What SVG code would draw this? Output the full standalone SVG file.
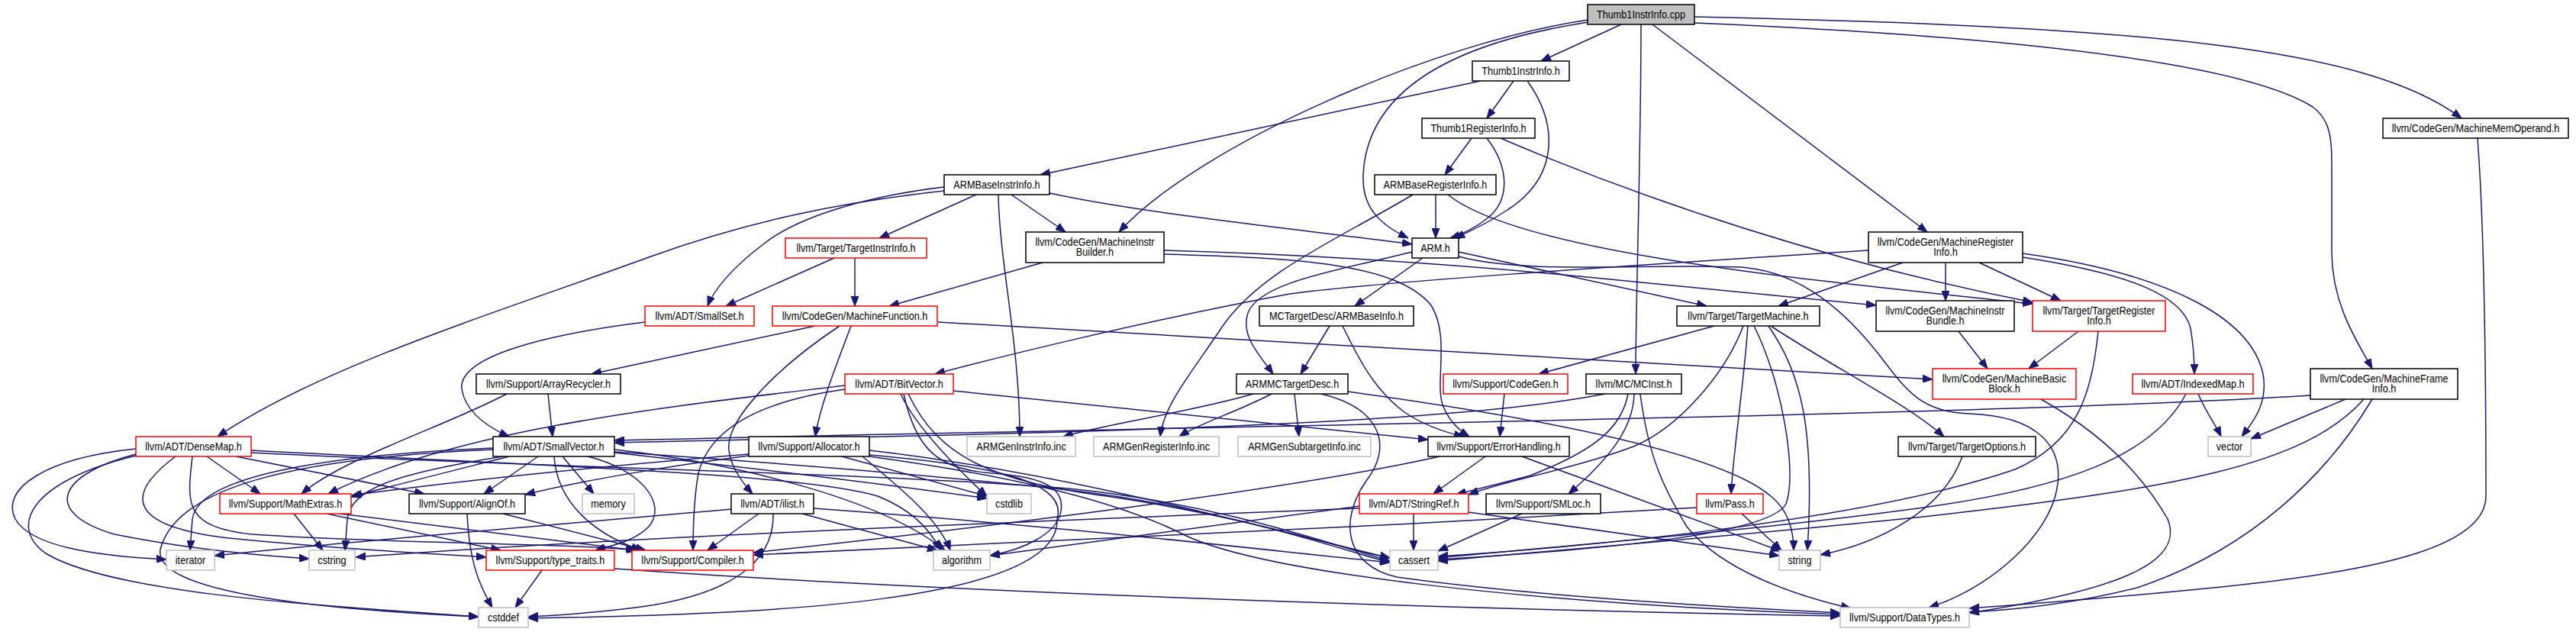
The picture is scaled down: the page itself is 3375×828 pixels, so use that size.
<svg xmlns="http://www.w3.org/2000/svg" width="3375" height="828" viewBox="0 0 3375 828">
<defs>
<marker id="arr" viewBox="0 0 13 10" refX="13" refY="5" markerWidth="13" markerHeight="10" markerUnits="userSpaceOnUse" orient="auto"><path d="M0,0 L13,5 L0,10 z" fill="#191970" stroke="#191970" stroke-width="1"/></marker>
</defs>
<style>
.n rect{fill:#fff;stroke:#000;stroke-width:1.5}
.n.r rect{stroke:#ff0000}
.n.g rect{stroke:#bfbfbf}
.n.root rect{fill:#bfbfbf}
.n text{font-family:"Liberation Sans",Arial,Helvetica,sans-serif;font-size:14.4px;text-anchor:middle;fill:#000}
#edges path{fill:none;stroke:#191970;stroke-width:1.5;marker-end:url(#arr)}
</style>
<rect x="0" y="0" width="3375" height="828" fill="#fff"/>
<g id="edges">
<path d="M2124,32 L2019,80"/>
<path d="M2081,29 C1880,60 1790,130 1786,230 C1784,275 1812,296 1845,312"/>
<path d="M2081,26 C1880,55 1570,190 1466,304"/>
<path d="M2150,32 C2150,200 2143,400 2143,490"/>
<path d="M2165,32 L2525,304"/>
<path d="M2220,22 C2800,35 3100,60 3225,155"/>
<path d="M2220,30 C2700,50 2950,90 3030,140 C3050,155 3055,175 3055,210 L3055,330 C3055,400 3090,450 3108,483"/>
<path d="M1940,106 L1363,229"/>
<path d="M1983,106 L1948,155"/>
<path d="M2001,106 C2040,160 2045,230 1975,275 C1950,292 1922,305 1906,312"/>
<path d="M1928,181 L1893,229"/>
<path d="M1948,181 C1978,220 1978,262 1950,285 C1935,297 1918,306 1900,312"/>
<path d="M1966,181 C2150,260 2400,345 2663,396"/>
<path d="M1881,255 L1881,312"/>
<path d="M1897,255 C1990,330 2350,365 2663,398"/>
<path d="M1851,255 C1760,310 1650,355 1600,430 C1560,490 1525,530 1520,572"/>
<path d="M1375,253 C1500,280 1700,300 1850,320"/>
<path d="M1325,255 L1396,304"/>
<path d="M1279,255 L1152,312"/>
<path d="M1308,255 C1310,350 1336,450 1336,572"/>
<path d="M1237,245 C1150,255 1050,280 1000,320 C960,350 935,380 927,401"/>
<path d="M1237,250 C1100,265 980,290 850,337 C650,410 420,480 285,572"/>
<path d="M1093,338 L951,401"/>
<path d="M1120,338 L1120,401"/>
<path d="M1366,344 L1165,401"/>
<path d="M1525,328 C1700,333 1900,345 2100,365 C2250,380 2380,392 2458,400"/>
<path d="M1525,333 C1700,338 1830,345 1875,400 C1900,440 1880,500 1890,530 C1898,552 1912,564 1925,572"/>
<path d="M1864,338 L1775,401"/>
<path d="M1850,330 C1750,355 1650,370 1635,410 C1625,440 1650,465 1668,490"/>
<path d="M1911,330 L2236,401"/>
<path d="M1911,336 C2000,360 2150,345 2280,350 C2360,355 2420,410 2466,470 C2500,515 2520,540 2580,542 C2670,545 2705,585 2695,640 C2685,700 2610,770 2527,796"/>
<path d="M2448,328 C2100,350 1800,370 1690,385 C1500,420 1300,470 1225,490"/>
<path d="M2549,344 L2549,394"/>
<path d="M2593,344 L2700,394"/>
<path d="M2493,344 L2330,401"/>
<path d="M2650,337 C2800,360 2860,390 2870,430 C2875,460 2875,475 2875,490"/>
<path d="M2650,332 C2850,360 2950,420 2965,490 C2972,530 2950,555 2937,572"/>
<path d="M845,422 C700,440 600,470 605,510 C610,540 640,560 667,572"/>
<path d="M1068,427 L775,490"/>
<path d="M1100,427 C1020,480 950,550 955,590 C958,615 975,635 986,647"/>
<path d="M1115,427 C1095,480 1075,530 1068,572"/>
<path d="M1229,422 L2532,497"/>
<path d="M664,516 C580,560 450,600 395,647"/>
<path d="M718,516 L724,572"/>
<path d="M1107,505 C900,530 600,560 430,647"/>
<path d="M1249,512 L1871,576"/>
<path d="M1107,510 C1000,525 930,560 915,620 C908,660 908,700 908,721"/>
<path d="M1184,516 C1200,590 1230,615 1300,620 C1370,625 1395,640 1390,670 C1385,700 1340,720 1297,728"/>
<path d="M1180,516 C1200,560 1260,620 1293,650"/>
<path d="M1190,516 C1230,600 1300,630 1450,650 C1650,680 1760,720 1821,731"/>
<path d="M1642,516 C1560,540 1450,555 1393,572"/>
<path d="M1666,516 C1620,540 1570,555 1545,572"/>
<path d="M1696,516 L1702,572"/>
<path d="M1731,516 C1810,535 1825,585 1790,630 C1755,680 1760,740 1830,756 C2000,780 2250,795 2411,803"/>
<path d="M1766,513 C2000,545 2250,590 2320,650 C2345,670 2350,700 2350,721"/>
<path d="M1742,427 L1704,490"/>
<path d="M1759,427 C1780,470 1800,510 1840,540 C1870,560 1900,568 1918,572"/>
<path d="M2246,427 L2016,490"/>
<path d="M2284,427 C2260,490 2200,560 2140,585 C2060,615 1970,630 1924,648"/>
<path d="M2290,427 C2285,500 2270,600 2268,647"/>
<path d="M2317,427 C2360,490 2378,560 2368,721"/>
<path d="M2298,427 C2335,500 2355,620 2340,660 C2320,700 2100,720 1884,733"/>
<path d="M2320,427 C2400,480 2500,530 2547,572"/>
<path d="M2566,434 L2604,483"/>
<path d="M2723,434 L2658,483"/>
<path d="M2749,434 C2740,520 2720,580 2640,615 C2450,680 2100,715 1884,729"/>
<path d="M2674,523 C2740,560 2800,610 2840,680 C2860,730 2800,770 2580,803"/>
<path d="M2880,516 C2890,540 2902,555 2910,572"/>
<path d="M2864,516 C2820,600 2700,640 2520,665 C2300,695 2050,715 1884,731"/>
<path d="M3027,518 C2600,545 1500,560 805,577"/>
<path d="M3073,523 L2949,575"/>
<path d="M3097,523 C3020,610 2850,640 2520,677 C2300,700 2050,720 1884,735"/>
<path d="M3108,523 C3050,620 2950,720 2800,770 C2700,795 2620,800 2580,802"/>
<path d="M3246,181 C3255,300 3257,500 3257,650 C3257,720 3100,750 2900,770 C2750,785 2650,792 2580,797"/>
<path d="M2103,516 C1900,555 1500,565 805,580"/>
<path d="M2133,516 C2125,560 2090,590 2005,623 C1960,635 1930,642 1908,648"/>
<path d="M2141,516 C2140,560 2110,600 2055,647"/>
<path d="M2149,516 C2160,600 2180,640 2210,690 C2250,740 2330,775 2425,797"/>
<path d="M1971,516 L1965,572"/>
<path d="M1946,598 L1878,647"/>
<path d="M1994,598 L2333,722"/>
<path d="M1886,598 C1700,640 1300,690 987,724"/>
<path d="M1852,673 L1852,721"/>
<path d="M1924,671 L2331,728"/>
<path d="M1781,663 L1297,728"/>
<path d="M1781,666 C1300,685 800,705 466,730"/>
<path d="M1994,673 L1884,722"/>
<path d="M2282,673 L2334,721"/>
<path d="M2223,665 C1800,690 1300,715 987,727"/>
<path d="M2571,598 C2545,670 2460,712 2385,727"/>
<path d="M271,598 L341,647"/>
<path d="M178,588 C60,600 0,640 20,680 C40,715 120,728 218,733"/>
<path d="M178,595 C80,620 50,670 150,700 C250,720 340,728 405,732"/>
<path d="M178,597 C40,630 10,690 60,725 C150,780 450,795 627,808"/>
<path d="M230,598 C160,650 170,690 300,705 C450,720 560,725 637,730"/>
<path d="M252,598 C245,660 240,690 330,700 C500,712 760,712 835,721"/>
<path d="M309,598 L556,647"/>
<path d="M329,590 C700,610 1050,620 1150,650 C1200,670 1222,700 1232,721"/>
<path d="M329,593 C700,612 1150,620 1400,640 C1600,660 1750,715 1821,735"/>
<path d="M646,587 C450,595 260,620 252,680 L249,721"/>
<path d="M646,589 C380,600 230,640 210,720 C200,780 450,800 627,808"/>
<path d="M659,598 C520,620 460,640 455,680 L452,721"/>
<path d="M705,598 L634,647"/>
<path d="M737,598 L778,647"/>
<path d="M770,598 C840,615 875,660 850,690 C830,710 800,715 780,721"/>
<path d="M726,598 C730,660 780,700 840,721"/>
<path d="M805,589 C950,605 1150,650 1238,721"/>
<path d="M805,592 C1000,605 1250,625 1400,642 C1600,665 1750,718 1821,737"/>
<path d="M805,593 C1000,615 1200,640 1293,653"/>
<path d="M667,598 C580,620 500,640 460,651"/>
<path d="M981,595 C800,610 600,630 461,649"/>
<path d="M981,597 C880,610 760,630 688,648"/>
<path d="M1103,598 L1293,650"/>
<path d="M1130,598 C1180,640 1230,680 1245,721"/>
<path d="M1139,590 C1400,620 1650,690 1821,731"/>
<path d="M1139,596 C1300,610 1400,630 1385,680 C1390,790 1000,805 692,810"/>
<path d="M1139,598 C1300,620 1450,650 1550,700 C1650,750 2000,790 2411,805"/>
<path d="M805,745 C1300,780 2000,800 2411,807"/>
<path d="M385,673 L423,721"/>
<path d="M428,673 L656,721"/>
<path d="M445,673 L833,721"/>
<path d="M612,673 C615,740 630,770 645,796"/>
<path d="M659,673 L846,721"/>
<path d="M710,747 L675,796"/>
<path d="M994,673 L927,721"/>
<path d="M958,667 C700,690 450,710 281,728"/>
<path d="M1013,673 C1015,740 950,780 840,795 C780,803 730,806 692,808"/>
<path d="M1051,673 L1228,721"/>
<path d="M1066,666 C1400,690 1650,720 1821,737"/>
</g>
<g id="n_cpp" class="n root"><rect x="2080" y="6" width="140" height="26"/><text transform="matrix(0.88 0 0 1 2150 24)">Thumb1InstrInfo.cpp</text></g>
<g id="n_t1ih" class="n"><rect x="1929" y="80" width="127" height="26"/><text transform="matrix(0.88 0 0 1 1992.5 98)">Thumb1InstrInfo.h</text></g>
<g id="n_t1rh" class="n"><rect x="1863" y="155" width="148" height="26"/><text transform="matrix(0.88 0 0 1 1937 173)">Thumb1RegisterInfo.h</text></g>
<g id="n_abri" class="n"><rect x="1801" y="229" width="159" height="26"/><text transform="matrix(0.88 0 0 1 1880.5 247)">ARMBaseRegisterInfo.h</text></g>
<g id="n_abii" class="n"><rect x="1237" y="229" width="138" height="26"/><text transform="matrix(0.88 0 0 1 1306 247)">ARMBaseInstrInfo.h</text></g>
<g id="n_mmo" class="n"><rect x="3122" y="155" width="243" height="26"/><text transform="matrix(0.88 0 0 1 3243.5 173)">llvm/CodeGen/MachineMemOperand.h</text></g>
<g id="n_tii" class="n r"><rect x="1029" y="312" width="185" height="26"/><text transform="matrix(0.88 0 0 1 1121.5 330)">llvm/Target/TargetInstrInfo.h</text></g>
<g id="n_mib" class="n"><rect x="1344" y="304" width="181" height="40"/><text transform="matrix(0.88 0 0 1 1434.5 321.5)">llvm/CodeGen/MachineInstr</text><text transform="matrix(0.88 0 0 1 1434.5 335)">Builder.h</text></g>
<g id="n_arm" class="n"><rect x="1850" y="312" width="61" height="26"/><text transform="matrix(0.88 0 0 1 1880.5 330)">ARM.h</text></g>
<g id="n_mri" class="n"><rect x="2448" y="304" width="202" height="40"/><text transform="matrix(0.88 0 0 1 2549 321.5)">llvm/CodeGen/MachineRegister</text><text transform="matrix(0.88 0 0 1 2549 335)">Info.h</text></g>
<g id="n_sset" class="n r"><rect x="845" y="401" width="143" height="26"/><text transform="matrix(0.88 0 0 1 916.5 419)">llvm/ADT/SmallSet.h</text></g>
<g id="n_mf" class="n r"><rect x="1012" y="401" width="216" height="26"/><text transform="matrix(0.88 0 0 1 1120 419)">llvm/CodeGen/MachineFunction.h</text></g>
<g id="n_abi" class="n"><rect x="1650" y="401" width="202" height="26"/><text transform="matrix(0.88 0 0 1 1751 419)">MCTargetDesc/ARMBaseInfo.h</text></g>
<g id="n_tm" class="n"><rect x="2197" y="401" width="187" height="26"/><text transform="matrix(0.88 0 0 1 2290.5 419)">llvm/Target/TargetMachine.h</text></g>
<g id="n_mibun" class="n"><rect x="2458" y="394" width="181" height="40"/><text transform="matrix(0.88 0 0 1 2548.5 411.5)">llvm/CodeGen/MachineInstr</text><text transform="matrix(0.88 0 0 1 2548.5 425)">Bundle.h</text></g>
<g id="n_tri" class="n r"><rect x="2663" y="394" width="174" height="40"/><text transform="matrix(0.88 0 0 1 2750 411.5)">llvm/Target/TargetRegister</text><text transform="matrix(0.88 0 0 1 2750 425)">Info.h</text></g>
<g id="n_ar" class="n"><rect x="624" y="490" width="189" height="26"/><text transform="matrix(0.88 0 0 1 718.5 508)">llvm/Support/ArrayRecycler.h</text></g>
<g id="n_bv" class="n r"><rect x="1107" y="490" width="142" height="26"/><text transform="matrix(0.88 0 0 1 1178 508)">llvm/ADT/BitVector.h</text></g>
<g id="n_amctd" class="n"><rect x="1620" y="490" width="146" height="26"/><text transform="matrix(0.88 0 0 1 1693 508)">ARMMCTargetDesc.h</text></g>
<g id="n_cg" class="n r"><rect x="1891" y="490" width="163" height="26"/><text transform="matrix(0.88 0 0 1 1972.5 508)">llvm/Support/CodeGen.h</text></g>
<g id="n_mci" class="n"><rect x="2078" y="490" width="125" height="26"/><text transform="matrix(0.88 0 0 1 2140.5 508)">llvm/MC/MCInst.h</text></g>
<g id="n_mbb" class="n r"><rect x="2532" y="483" width="188" height="40"/><text transform="matrix(0.88 0 0 1 2626 500.5)">llvm/CodeGen/MachineBasic</text><text transform="matrix(0.88 0 0 1 2626 514)">Block.h</text></g>
<g id="n_im" class="n r"><rect x="2794" y="490" width="158" height="26"/><text transform="matrix(0.88 0 0 1 2873 508)">llvm/ADT/IndexedMap.h</text></g>
<g id="n_mfi" class="n"><rect x="3027" y="483" width="193" height="40"/><text transform="matrix(0.88 0 0 1 3123.5 500.5)">llvm/CodeGen/MachineFrame</text><text transform="matrix(0.88 0 0 1 3123.5 514)">Info.h</text></g>
<g id="n_dm" class="n r"><rect x="178" y="572" width="151" height="26"/><text transform="matrix(0.88 0 0 1 253.5 590)">llvm/ADT/DenseMap.h</text></g>
<g id="n_sv" class="n"><rect x="646" y="572" width="159" height="26"/><text transform="matrix(0.88 0 0 1 725.5 590)">llvm/ADT/SmallVector.h</text></g>
<g id="n_alloc" class="n"><rect x="981" y="572" width="158" height="26"/><text transform="matrix(0.88 0 0 1 1060 590)">llvm/Support/Allocator.h</text></g>
<g id="n_agii" class="n g"><rect x="1267" y="572" width="142" height="26"/><text transform="matrix(0.88 0 0 1 1338 590)">ARMGenInstrInfo.inc</text></g>
<g id="n_agri" class="n g"><rect x="1433" y="572" width="164" height="26"/><text transform="matrix(0.88 0 0 1 1515 590)">ARMGenRegisterInfo.inc</text></g>
<g id="n_agsi" class="n g"><rect x="1622" y="572" width="174" height="26"/><text transform="matrix(0.88 0 0 1 1709 590)">ARMGenSubtargetInfo.inc</text></g>
<g id="n_eh" class="n"><rect x="1871" y="572" width="185" height="26"/><text transform="matrix(0.88 0 0 1 1963.5 590)">llvm/Support/ErrorHandling.h</text></g>
<g id="n_to" class="n"><rect x="2487" y="572" width="180" height="26"/><text transform="matrix(0.88 0 0 1 2577 590)">llvm/Target/TargetOptions.h</text></g>
<g id="n_vec" class="n g"><rect x="2893" y="572" width="56" height="26"/><text transform="matrix(0.88 0 0 1 2921 590)">vector</text></g>
<g id="n_me" class="n r"><rect x="288" y="647" width="172" height="26"/><text transform="matrix(0.88 0 0 1 374 665)">llvm/Support/MathExtras.h</text></g>
<g id="n_ao" class="n"><rect x="536" y="647" width="152" height="26"/><text transform="matrix(0.88 0 0 1 612 665)">llvm/Support/AlignOf.h</text></g>
<g id="n_mem" class="n g"><rect x="763" y="647" width="68" height="26"/><text transform="matrix(0.88 0 0 1 797 665)">memory</text></g>
<g id="n_il" class="n"><rect x="958" y="647" width="108" height="26"/><text transform="matrix(0.88 0 0 1 1012 665)">llvm/ADT/ilist.h</text></g>
<g id="n_cstdlib" class="n g"><rect x="1293" y="647" width="58" height="26"/><text transform="matrix(0.88 0 0 1 1322 665)">cstdlib</text></g>
<g id="n_sr" class="n r"><rect x="1781" y="647" width="143" height="26"/><text transform="matrix(0.88 0 0 1 1852.5 665)">llvm/ADT/StringRef.h</text></g>
<g id="n_sm" class="n"><rect x="1947" y="647" width="150" height="26"/><text transform="matrix(0.88 0 0 1 2022 665)">llvm/Support/SMLoc.h</text></g>
<g id="n_pass" class="n r"><rect x="2223" y="647" width="87" height="26"/><text transform="matrix(0.88 0 0 1 2266.5 665)">llvm/Pass.h</text></g>
<g id="n_iter" class="n g"><rect x="218" y="721" width="63" height="26"/><text transform="matrix(0.88 0 0 1 249.5 739)">iterator</text></g>
<g id="n_cstr" class="n g"><rect x="405" y="721" width="60" height="26"/><text transform="matrix(0.88 0 0 1 435 739)">cstring</text></g>
<g id="n_tt" class="n r"><rect x="637" y="721" width="168" height="26"/><text transform="matrix(0.88 0 0 1 721 739)">llvm/Support/type_traits.h</text></g>
<g id="n_comp" class="n r"><rect x="828" y="721" width="159" height="26"/><text transform="matrix(0.88 0 0 1 907.5 739)">llvm/Support/Compiler.h</text></g>
<g id="n_algo" class="n g"><rect x="1223" y="721" width="74" height="26"/><text transform="matrix(0.88 0 0 1 1260 739)">algorithm</text></g>
<g id="n_cass" class="n g"><rect x="1821" y="721" width="63" height="26"/><text transform="matrix(0.88 0 0 1 1852.5 739)">cassert</text></g>
<g id="n_str" class="n g"><rect x="2331" y="721" width="54" height="26"/><text transform="matrix(0.88 0 0 1 2358 739)">string</text></g>
<g id="n_cstddef" class="n g"><rect x="627" y="796" width="65" height="26"/><text transform="matrix(0.88 0 0 1 659.5 814)">cstddef</text></g>
<g id="n_dt" class="n g"><rect x="2411" y="796" width="169" height="26"/><text transform="matrix(0.88 0 0 1 2495.5 814)">llvm/Support/DataTypes.h</text></g>
</svg>
